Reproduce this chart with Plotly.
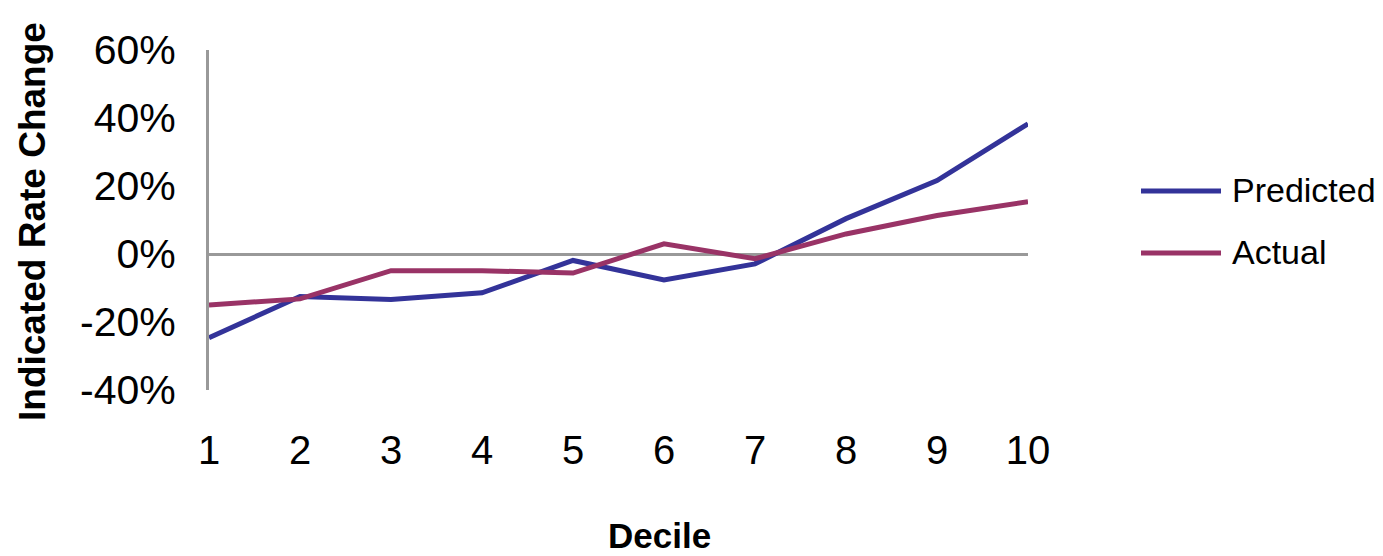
import plotly.graph_objects as go

deciles = [1, 2, 3, 4, 5, 6, 7, 8, 9, 10]
predicted = [-24.6, -12.5, -13.4, -11.4, -1.9, -7.6, -2.9, 10.4, 21.6, 38.3]
actual = [-15.0, -13.2, -4.9, -4.9, -5.6, 3.0, -1.4, 5.9, 11.3, 15.4]
y_tickvals = [-40, -20, 0, 20, 40, 60]
y_ticktext = ["-40%", "-20%", "0%", "20%", "40%", "60%"]
series_names = ["Predicted", "Actual"]
series_colors = ["#333399", "#993366"]

# the page body has an 8px margin; work in page pixels and shift
OFF = 8
W, H = 1383 - OFF, 556 - OFF
ML, MR, MT, MB = 209 - OFF, 355, 50 - OFF, 166
FONT = "Arial, 'Liberation Sans', sans-serif"

fig = go.Figure()
for name, vals, col in zip(series_names, [predicted, actual], series_colors):
    fig.add_trace(go.Scatter(x=deciles, y=vals, mode="lines", name=name,
                             line=dict(color=col, width=5), showlegend=False))

fig.update_layout(
    width=W, height=H,
    margin=dict(l=ML, r=MR, t=MT, b=MB),
    paper_bgcolor="white", plot_bgcolor="white",
    font=dict(family=FONT, color="black"),
    xaxis=dict(range=[1, 10], tickvals=deciles, ticktext=[str(d) for d in deciles],
               showline=False, showgrid=False, zeroline=False, ticks="",
               tickfont=dict(size=40, family=FONT), ticklabelstandoff=33),
    yaxis=dict(range=[-40, 60], tickvals=y_tickvals, ticktext=y_ticktext,
               showline=True, linecolor="#999999", linewidth=3,
               showgrid=False, zeroline=True, zerolinecolor="#999999", zerolinewidth=3,
               ticks="", tickfont=dict(size=41, family=FONT), ticklabelstandoff=22),
)

pw = W - ML - MR
ph = H - MT - MB

def px(x):
    return (x - OFF - ML) / pw

def py(y):
    return 1 - (y - OFF - MT) / ph

# axis titles
fig.add_annotation(text="<b>Decile</b>", xref="paper", yref="paper",
                   x=px(659), y=py(535), showarrow=False, borderpad=0,
                   font=dict(size=35, family=FONT, color="black"),
                   xanchor="center", yanchor="middle")
fig.add_annotation(text="<b>Indicated Rate Change</b>", xref="paper", yref="paper",
                   x=px(32), y=py(222), showarrow=False, textangle=-90,
                   font=dict(size=37, family=FONT, color="black"),
                   xanchor="center", yanchor="middle")

# legend
legend_y = [191, 253]
for name, col, ly in zip(series_names, series_colors, legend_y):
    fig.add_shape(type="line", xref="paper", yref="paper",
                  x0=px(1141), x1=px(1221), y0=py(ly), y1=py(ly),
                  line=dict(color=col, width=5))
    fig.add_annotation(text=name, xref="paper", yref="paper",
                       x=px(1230), y=py(ly - 1), showarrow=False,
                       xanchor="left", yanchor="middle",
                       font=dict(size=34, family=FONT, color="black"))

fig.write_html("out.html")
